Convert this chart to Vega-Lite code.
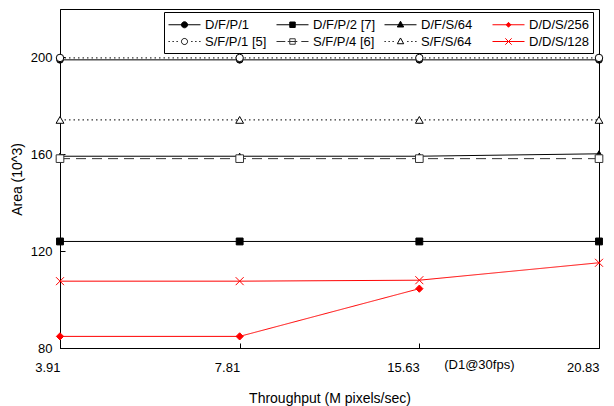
{
  "$schema": "https://vega.github.io/schema/vega-lite/v6.json",
  "width": 539,
  "height": 339,
  "autosize": {"type": "none"},
  "padding": {"left": 60, "top": 9, "right": 15, "bottom": 58},
  "background": "white",
  "data": {
    "values": [
      {"t": 3.91, "area": 199, "series": "D/F/P/1"},
      {"t": 7.81, "area": 199, "series": "D/F/P/1"},
      {"t": 15.63, "area": 199, "series": "D/F/P/1"},
      {"t": 20.83, "area": 199, "series": "D/F/P/1"},
      {"t": 3.91, "area": 124, "series": "D/F/P/2 [7]"},
      {"t": 7.81, "area": 124, "series": "D/F/P/2 [7]"},
      {"t": 15.63, "area": 124, "series": "D/F/P/2 [7]"},
      {"t": 20.83, "area": 124, "series": "D/F/P/2 [7]"},
      {"t": 3.91, "area": 159.2, "series": "D/F/S/64"},
      {"t": 7.81, "area": 159.2, "series": "D/F/S/64"},
      {"t": 15.63, "area": 159.2, "series": "D/F/S/64"},
      {"t": 20.83, "area": 160.2, "series": "D/F/S/64"},
      {"t": 3.91, "area": 84.8, "series": "D/D/S/256"},
      {"t": 7.81, "area": 84.8, "series": "D/D/S/256"},
      {"t": 15.63, "area": 104.5, "series": "D/D/S/256"},
      {"t": 3.91, "area": 199.8, "series": "S/F/P/1 [5]"},
      {"t": 7.81, "area": 199.8, "series": "S/F/P/1 [5]"},
      {"t": 15.63, "area": 199.8, "series": "S/F/P/1 [5]"},
      {"t": 20.83, "area": 199.8, "series": "S/F/P/1 [5]"},
      {"t": 3.91, "area": 158.2, "series": "S/F/P/4 [6]"},
      {"t": 7.81, "area": 158.2, "series": "S/F/P/4 [6]"},
      {"t": 15.63, "area": 158.2, "series": "S/F/P/4 [6]"},
      {"t": 20.83, "area": 158.2, "series": "S/F/P/4 [6]"},
      {"t": 3.91, "area": 174.2, "series": "S/F/S/64"},
      {"t": 7.81, "area": 174.2, "series": "S/F/S/64"},
      {"t": 15.63, "area": 174.2, "series": "S/F/S/64"},
      {"t": 20.83, "area": 174.2, "series": "S/F/S/64"},
      {"t": 3.91, "area": 107.6, "series": "D/D/S/128"},
      {"t": 7.81, "area": 107.6, "series": "D/D/S/128"},
      {"t": 15.63, "area": 108, "series": "D/D/S/128"},
      {"t": 20.83, "area": 115.2, "series": "D/D/S/128"}
    ]
  },
  "layer": [
    {
      "mark": {"type": "line", "strokeWidth": 1},
      "encoding": {
        "x": {"field": "t", "type": "ordinal"},
        "y": {"field": "area", "type": "quantitative"},
        "stroke": {"field": "series", "type": "nominal",
          "legend": {
            "title": null, "direction": "horizontal", "columns": 4,
            "encode": {"symbols": {"update": {
              "shape": {"signal": "datum.value === 'D/F/P/1' ? 'M-1,0H3M1.38,0A0.38,0.38,0,1,1,0.62,0A0.38,0.38,0,1,1,1.38,0Z' : datum.value === 'D/F/P/2 [7]' ? 'M-1,0H3M0.66,-0.34H1.34V0.34H0.66Z' : datum.value === 'D/F/S/64' ? 'M-1,0H3M1,-0.44L1.4,0.28H0.6Z' : datum.value === 'D/D/S/256' ? 'M-1,0H3M1,-0.3L1.3,0L1,0.3L0.7,0Z' : datum.value === 'S/F/P/1 [5]' ? 'M-1,0H-0.84M-0.5,0H-0.34M0,0H0.16M1.84,0H2M2.34,0H2.5M2.84,0H3M1.38,0A0.38,0.38,0,1,1,0.62,0A0.38,0.38,0,1,1,1.38,0Z' : datum.value === 'S/F/P/4 [6]' ? 'M-1,0H0.1M0.4,0H1.6M2.1,0H3M0.66,-0.34H1.34V0.34H0.66Z' : datum.value === 'S/F/S/64' ? 'M-1,0H-0.84M-0.5,0H-0.34M0,0H0.16M1.84,0H2M2.34,0H2.5M2.84,0H3M1,-0.44L1.4,0.28H0.6Z' : 'M-1,0H3M0.6,-0.4L1.4,0.4M0.6,0.4L1.4,-0.4'"},
              "size": {"value": 256},
              "opacity": {"value": 1},
              "strokeWidth": {"value": 1}
            }}}
          }},
        "strokeDash": {"field": "series", "type": "nominal", "legend": null,
          "scale": {"domain": ["D/D/S/128", "S/F/S/64", "S/F/P/4 [6]", "S/F/P/1 [5]", "D/D/S/256", "D/F/S/64", "D/F/P/2 [7]", "D/F/P/1"],
            "range": [[1, 0], [1.5, 3], [10, 6], [1.5, 3], [1, 0], [1, 0], [1, 0], [1, 0]]}}
      }
    },
    {
      "mark": {"type": "point", "opacity": 1, "strokeWidth": 1},
      "encoding": {
        "x": {"field": "t", "type": "ordinal",
          "scale": {"type": "point", "padding": 0},
          "axis": {"labelAngle": 0, "labelFontSize": 13, "tickSize": -5, "labelPadding": 24,
            "title": "Throughput (M pixels/sec)", "titleFontSize": 14, "titleY": 50, "titleBaseline": "middle"}},
        "y": {"field": "area", "type": "quantitative",
          "scale": {"domain": [80, 220], "nice": false, "zero": false},
          "axis": {"values": [80, 120, 160, 200], "labelFontSize": 13, "tickSize": -5, "labelPadding": 13,
            "title": "Area (10^3)", "titleFontSize": 14, "titleX": -43, "titleY": 170, "titleBaseline": "middle"}},
        "stroke": {"field": "series", "type": "nominal", "legend": {"title": null},
          "scale": {"domain": ["D/F/P/1", "D/F/P/2 [7]", "D/F/S/64", "D/D/S/256", "S/F/P/1 [5]", "S/F/P/4 [6]", "S/F/S/64", "D/D/S/128"],
            "range": ["#000000", "#000000", "#000000", "#ff0000", "#000000", "#333333", "#000000", "#ff0000"]}},
        "fill": {"field": "series", "type": "nominal", "legend": {"title": null},
          "scale": {"domain": ["D/F/P/1", "D/F/P/2 [7]", "D/F/S/64", "D/D/S/256", "S/F/P/1 [5]", "S/F/P/4 [6]", "S/F/S/64", "D/D/S/128"],
            "range": ["#000000", "#000000", "#000000", "#ff0000", "#ffffff", "#ffffff", "#ffffff", "#ff0000"]}},
        "size": {"field": "series", "type": "nominal", "legend": null,
          "scale": {"domain": ["D/D/S/128", "S/F/S/64", "S/F/P/4 [6]", "S/F/P/1 [5]", "D/D/S/256", "D/F/S/64", "D/F/P/2 [7]", "D/F/P/1"],
            "range": [64, 44, 40, 44, 22, 40, 36, 40]}},
        "shape": {"field": "series", "type": "nominal", "legend": null,
          "scale": {"domain": ["D/D/S/128", "S/F/S/64", "S/F/P/4 [6]", "S/F/P/1 [5]", "D/D/S/256", "D/F/S/64", "D/F/P/2 [7]", "D/F/P/1"],
            "range": ["M-1,-1L1,1M-1,1L1,-1", "triangle-up", "square", "circle", "diamond", "triangle-up", "square", "circle"]}}
      }
    },
    {
      "data": {"values": [{"t": 15.63, "area": 80, "note": "(D1@30fps)"}]},
      "mark": {"type": "text", "align": "center", "baseline": "middle", "dx": 60, "dy": 17, "fontSize": 13, "font": "Liberation Sans", "color": "#000000", "clip": false},
      "encoding": {
        "x": {"field": "t", "type": "ordinal"},
        "y": {"field": "area", "type": "quantitative"},
        "text": {"field": "note"}
      }
    }
  ],
  "config": {
    "view": {"stroke": "#000000", "strokeWidth": 1},
    "axis": {"grid": false, "domainColor": "#000000", "tickColor": "#000000", "labelColor": "#000000", "titleColor": "#000000",
      "labelFont": "Liberation Sans", "titleFont": "Liberation Sans", "titleFontWeight": "normal", "domainWidth": 1, "tickWidth": 1},
    "legend": {
      "orient": "none", "legendX": 104, "legendY": 3, "columns": 4, "direction": "horizontal", "gridAlign": "all",
      "strokeColor": "#000000", "fillColor": "#ffffff", "padding": 4,
      "symbolSize": 256, "symbolStrokeWidth": 1, "labelFontSize": 13, "labelFont": "Liberation Sans", "labelColor": "#000000",
      "rowPadding": 1, "columnPadding": 6, "labelOffset": 20, "symbolOpacity": 1
    }
  }
}
